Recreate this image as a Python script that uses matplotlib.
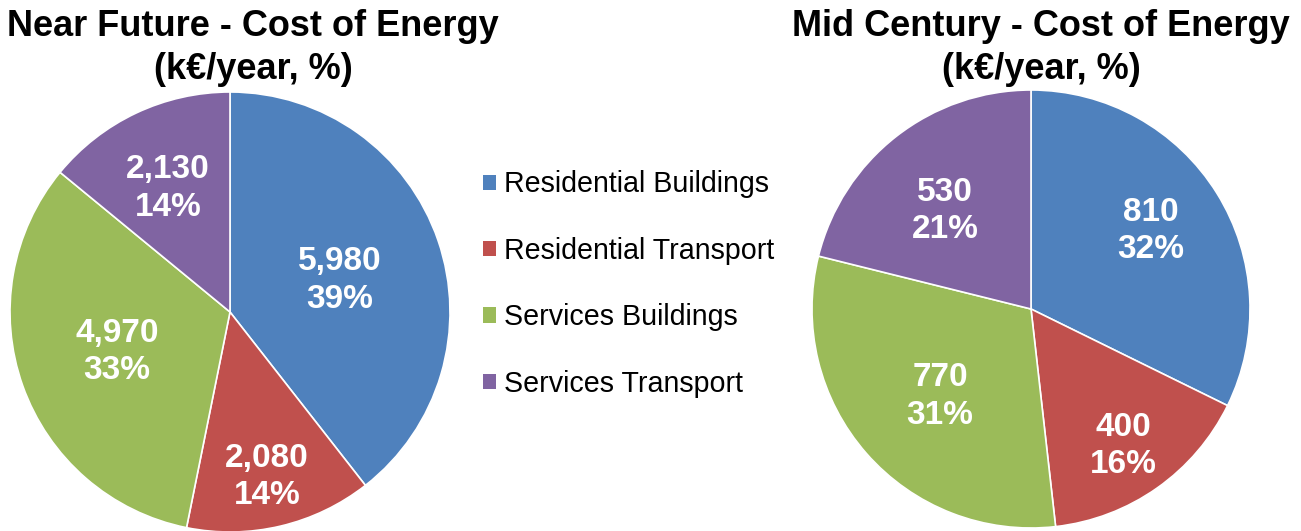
import matplotlib
matplotlib.use("Agg")
import matplotlib.pyplot as plt
from matplotlib.patches import Patch
import numpy as np

categories = ["Residential Buildings", "Residential Transport", "Services Buildings", "Services Transport"]
near_future = [5980, 2080, 4970, 2130]
mid_century = [810, 400, 770, 530]
titles = ["Near Future - Cost of Energy\n(k€/year, %)", "Mid Century - Cost of Energy\n(k€/year, %)"]
colors = ["#4F81BD", "#C0504D", "#9BBB59", "#8064A2"]

plt.rcParams['font.family'] = ['Liberation Sans', 'DejaVu Sans']

fig = plt.figure(figsize=(13.01, 5.31), dpi=100)
W, H = 1301, 531

def add_pie(cx, cy, r, values, label_dist, label_rot):
    ax = fig.add_axes([(cx - r) / W, (H - cy - r) / H, 2 * r / W, 2 * r / H])
    wedges, _ = ax.pie(values, colors=colors, startangle=90, counterclock=False,
                       wedgeprops=dict(edgecolor="white", linewidth=1.2))
    total = sum(values)
    for w, v, d, o in zip(wedges, values, label_dist, label_rot):
        ang = np.deg2rad((w.theta1 + w.theta2) / 2 + o)
        ax.text(d * np.cos(ang), d * np.sin(ang) - 0.015, f"{v:,}\n{v / total * 100:.0f}%",
                ha="center", va="center", color="white", fontsize=24,
                fontweight="bold", linespacing=1.27)
    ax.set_xlim(-1, 1)
    ax.set_ylim(-1, 1)
    ax.set_aspect("equal")
    ax.axis("off")
    return ax

add_pie(230, 312, 220, near_future, [0.525, 0.755, 0.540, 0.642], [-1.4, -0.4, -1.5, 0.7])
add_pie(1031, 309, 219, mid_century, [0.663, 0.742, 0.566, 0.606], [2.2, -0.6, 1.5, 2.4])

fig.text(253 / W, 1 - 48 / H, titles[0], ha="center", va="center", fontsize=26,
         fontweight="bold", linespacing=1.3)
fig.text(1041 / W, 1 - 48 / H, titles[1], ha="center", va="center", fontsize=26,
         fontweight="bold", linespacing=1.3)

handles = [Patch(facecolor=c, edgecolor="none") for c in colors]
fig.legend(handles, categories, loc="center left", bbox_to_anchor=(457 / W, 1 - 284 / H),
           frameon=False, fontsize=20.6, handlelength=0.45, handleheight=0.45,
           handletextpad=0.3, labelspacing=1.34)

fig.savefig("out.png", dpi=100)
